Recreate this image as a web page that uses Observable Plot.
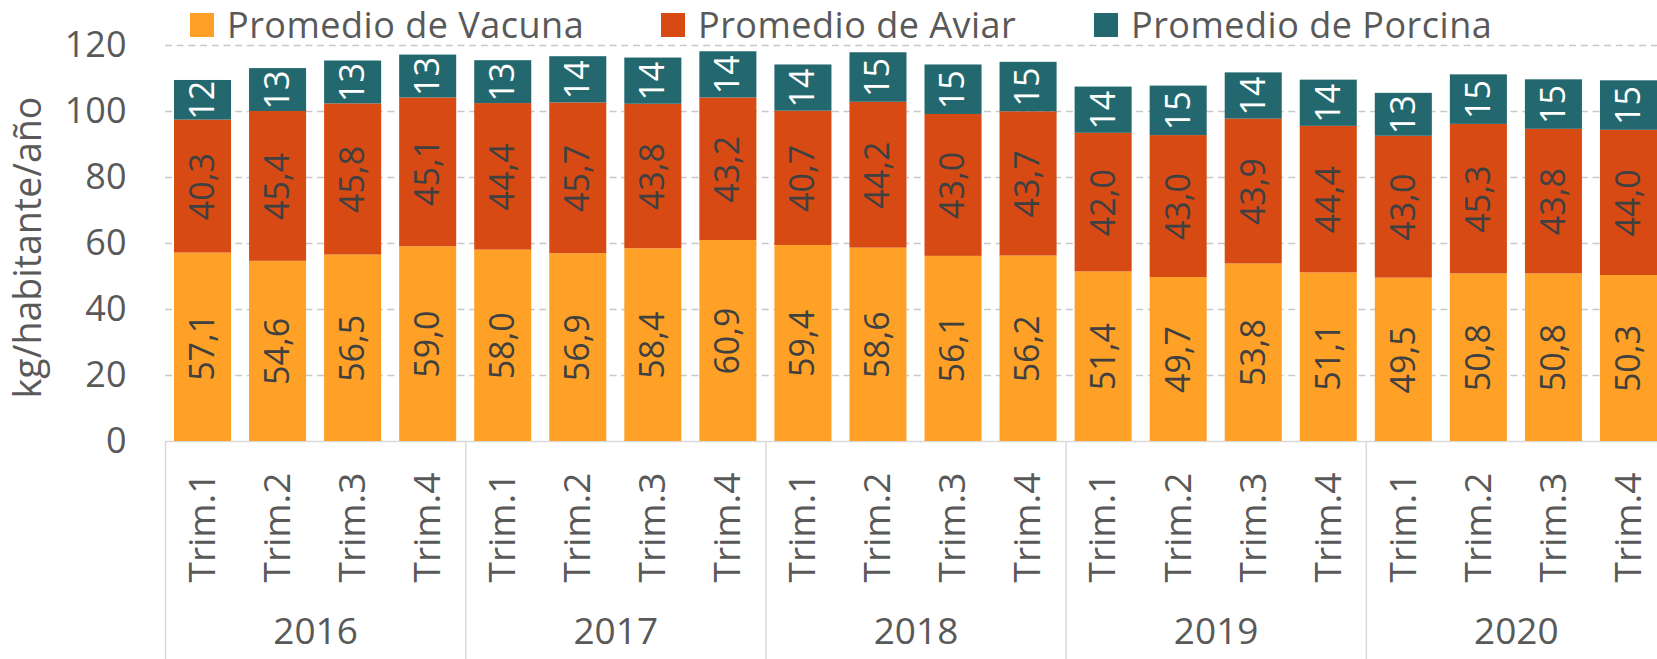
<!DOCTYPE html>
<html>
<head>
<meta charset="utf-8">
<script src="https://cdn.jsdelivr.net/npm/d3@7"></script>
<script src="https://cdn.jsdelivr.net/npm/@observablehq/plot@0.6"></script>
<style>
  html, body { margin: 0; padding: 0; background: #ffffff; }
  #wrap { position: relative; width: 1657px; height: 659px; overflow: hidden; font-family: "Open Sans", sans-serif; }
  #legend { position: absolute; top: 0; left: 0; width: 1657px; height: 45px; z-index: 2; }
  .item { position: absolute; top: 7px; height: 36px; display: flex; align-items: center; font-size: 36px; letter-spacing: 0.5px; line-height: 36px; color: #595959; white-space: nowrap; }
  .sw { width: 24px; height: 24px; margin-right: 13px; flex: none; }
</style>
</head>
<body>
<div id="wrap">
  <div id="legend"></div>
  <div id="chart"></div>
</div>
<script>
const years = ["2016", "2017", "2018", "2019", "2020"];
const quarters = ["Trim.1", "Trim.2", "Trim.3", "Trim.4"];
const seriesNames = ["Promedio de Vacuna", "Promedio de Aviar", "Promedio de Porcina"];
const seriesColors = ["#FFA126", "#D84A14", "#22686E"];
const labelColors = ["#404040", "#404040", "#ffffff"];
const vacuna = [57.1, 54.6, 56.5, 59.0, 58.0, 56.9, 58.4, 60.9, 59.4, 58.6, 56.1, 56.2, 51.4, 49.7, 53.8, 51.1, 49.5, 50.8, 50.8, 50.3];
const aviar = [40.3, 45.4, 45.8, 45.1, 44.4, 45.7, 43.8, 43.2, 40.7, 44.2, 43.0, 43.7, 42.0, 43.0, 43.9, 44.4, 43.0, 45.3, 43.8, 44.0];
const porcina = [12, 13, 13, 13, 13, 14, 14, 14, 14, 15, 15, 15, 14, 15, 14, 14, 13, 15, 15, 15];
const yTicks = [0, 20, 40, 60, 80, 100, 120];
const yTitle = "kg/habitante/año";

const keys = years.flatMap(y => quarters.map(q => y + "|" + q));
const seriesValues = [vacuna, aviar, porcina];
const rows = keys.flatMap((k, i) => seriesValues.map((vals, s) => ({
  key: k,
  series: seriesNames[s],
  value: vals[i],
  color: seriesColors[s],
  labelColor: labelColors[s],
  label: s === 2 ? String(vals[i]) : vals[i].toFixed(1).replace(".", ",")
})));

// legend
const legendLeft = [190, 661, 1094];
const legend = document.getElementById("legend");
seriesNames.forEach((name, i) => {
  const it = document.createElement("div");
  it.className = "item";
  it.style.left = legendLeft[i] + "px";
  const sw = document.createElement("span");
  sw.className = "sw";
  sw.style.background = seriesColors[i];
  const tx = document.createElement("span");
  tx.textContent = name;
  it.appendChild(sw);
  it.appendChild(tx);
  legend.appendChild(it);
});

const font = '"Open Sans", sans-serif';
const gray = "#595959";

const chart = Plot.plot({
  width: 1657,
  height: 659,
  marginTop: 45,
  marginBottom: 218,
  marginLeft: 165,
  marginRight: 0,
  style: { fontFamily: font, fontSize: "35px", color: gray, background: "transparent" },
  x: { domain: keys, range: [165, 1666], paddingInner: 0.24, paddingOuter: 0.12, round: false },
  y: { domain: [0, 120] },
  color: { type: "identity" },
  marks: [
    Plot.gridY({ ticks: yTicks.filter(t => t > 0), stroke: "#c8c8c8", strokeOpacity: 1, strokeWidth: 1.3, strokeDasharray: "7,4.7" }),
    Plot.ruleY([0], { stroke: "#d9d9d9", strokeWidth: 1.5 }),
    Plot.barY(rows, { x: "key", y: "value", z: "series", fill: "color" }),
    Plot.text(rows, Plot.stackY({ x: "key", y: "value", z: "series", text: "label", fill: "labelColor", rotate: -90, fontSize: 34 })),
    Plot.axisY({ ticks: yTicks, tickSize: 0, tickPadding: 39, fontSize: 36, fill: gray, label: null }),
    Plot.axisX({ tickFormat: k => k.split("|")[1], tickRotate: -90, tickSize: 0, tickPadding: 31, fontSize: 37, fill: gray, label: null }),
    Plot.ruleX(years, { x: y => y + "|" + quarters[0], dx: -37.5, stroke: "#d9d9d9", strokeWidth: 1.5, insetTop: 396, insetBottom: -218 }),
    Plot.text(years, { x: y => y + "|" + quarters[1], dx: 37.5, frameAnchor: "bottom", lineAnchor: "middle", dy: 191, text: d => d, fontSize: 37, fill: gray }),
    Plot.text([yTitle], { text: d => d, frameAnchor: "left", textAnchor: "middle", lineAnchor: "middle", rotate: -90, dx: -137, dy: 4, fontSize: 37.5, fill: gray })
  ]
});
document.getElementById("chart").appendChild(chart);
</script>
</body>
</html>
